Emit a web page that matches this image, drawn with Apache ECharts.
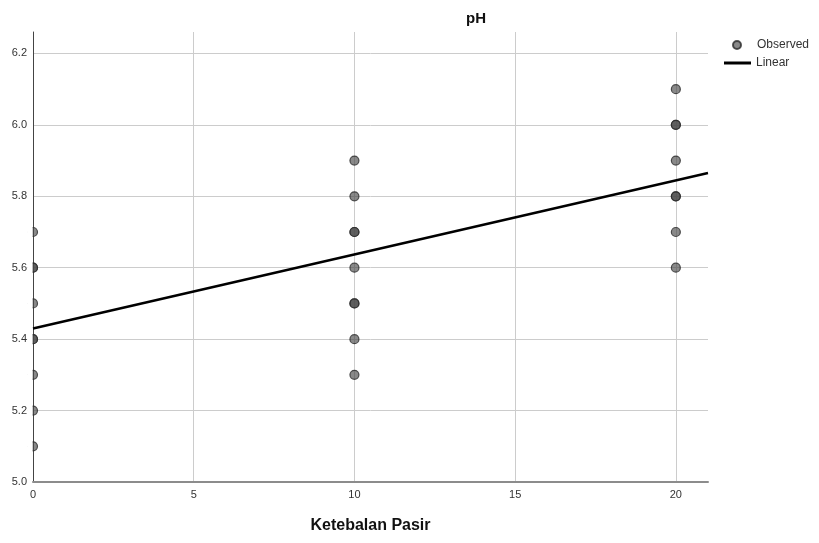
<!DOCTYPE html>
<html>
<head>
<meta charset="utf-8">
<script src="https://cdn.jsdelivr.net/npm/echarts@6/dist/echarts.min.js"></script>
<style>
  html, body { margin: 0; padding: 0; background: #fff; }
  #chart { width: 819px; height: 543px; }
</style>
</head>
<body>
<div id="chart"></div>
<script>
// Observed pH per sand thickness (duplicates kept, overlapping marks look darker)
const thickness0 = [5.1, 5.2, 5.3, 5.4, 5.4, 5.5, 5.6, 5.6, 5.7];
const thickness10 = [5.3, 5.4, 5.5, 5.5, 5.6, 5.7, 5.7, 5.8, 5.9];
const thickness20 = [5.6, 5.7, 5.8, 5.8, 5.9, 6.0, 6.0, 6.1];
const groupX = [0, 10, 20];

// Fitted linear line, end points across the x range
const linearX = [0, 21];
const linearY = [5.43, 5.865];

const xTicks = [0, 5, 10, 15, 20];
const yTicks = [5.0, 5.2, 5.4, 5.6, 5.8, 6.0, 6.2];

const observed = [];
[thickness0, thickness10, thickness20].forEach((vals, i) => {
  vals.forEach(v => observed.push([groupX[i], v]));
});
const linear = linearX.map((x, i) => [x, linearY[i]]);

const FONT = '"Liberation Sans", Arial, sans-serif';
const chart = echarts.init(document.getElementById('chart'), null, { renderer: 'canvas' });

chart.setOption({
  animation: false,
  backgroundColor: '#fff',
  title: {
    text: 'pH',
    left: 471,
    top: 6,
    textAlign: 'center',
    textStyle: { fontFamily: FONT, fontSize: 15, fontWeight: 'bold', color: '#111' }
  },
  legend: [
    {
      data: [{ name: 'Observed', icon: 'circle' }],
      left: 727, top: 34,
      itemWidth: 30, itemHeight: 8,
      textStyle: { fontFamily: FONT, fontSize: 12, color: '#333' }
    },
    {
      data: [{ name: 'Linear', icon: 'rect' }],
      left: 719, top: 52,
      itemWidth: 27, itemHeight: 3,
      textStyle: { fontFamily: FONT, fontSize: 12, color: '#333' }
    }
  ],
  grid: { left: 33, right: 111, top: 32, bottom: 61, containLabel: false },
  xAxis: {
    type: 'value',
    min: 0, max: 21,
    name: 'Ketebalan Pasir',
    nameLocation: 'middle',
    nameGap: 36,
    nameTextStyle: { fontFamily: FONT, fontSize: 16, fontWeight: 'bold', color: '#111' },
    axisLine: { show: true, onZero: false, lineStyle: { color: '#8c8c8c', width: 2 } },
    axisTick: { show: false, customValues: xTicks },
    axisLabel: { customValues: xTicks, fontFamily: FONT, fontSize: 11, color: '#333', margin: 7 },
    splitLine: { show: true, lineStyle: { color: '#cccccc', width: 1 } }
  },
  yAxis: {
    type: 'value',
    min: 5.0, max: 6.26,
    axisLine: { show: true, onZero: false, lineStyle: { color: '#444', width: 1 } },
    axisTick: { show: false, customValues: yTicks },
    axisLabel: {
      customValues: yTicks,
      formatter: v => v.toFixed(1),
      fontFamily: FONT, fontSize: 11, color: '#333', margin: 6
    },
    splitLine: { show: true, lineStyle: { color: '#cccccc', width: 1 } }
  },
  graphic: [
    {
      // thin white strip left of the y axis, hides the outer half of marks at x = 0
      type: 'rect',
      z: 3,
      shape: { x: 27.8, y: 26, width: 4.8, height: 455 },
      style: { fill: '#fff' },
      silent: true
    }
  ],
  series: [
    {
      name: 'Observed',
      type: 'scatter',
      data: observed,
      symbol: 'circle',
      symbolSize: 9,
      z: 2,
      itemStyle: { color: 'rgba(70,70,70,0.8)', borderColor: '#2a2a2a', borderWidth: 1.2 }
    },
    {
      name: 'Linear',
      type: 'line',
      data: linear,
      symbol: 'none',
      z: 4,
      lineStyle: { color: '#000', width: 2.5 },
      itemStyle: { color: '#000' }
    }
  ]
});
</script>
</body>
</html>
